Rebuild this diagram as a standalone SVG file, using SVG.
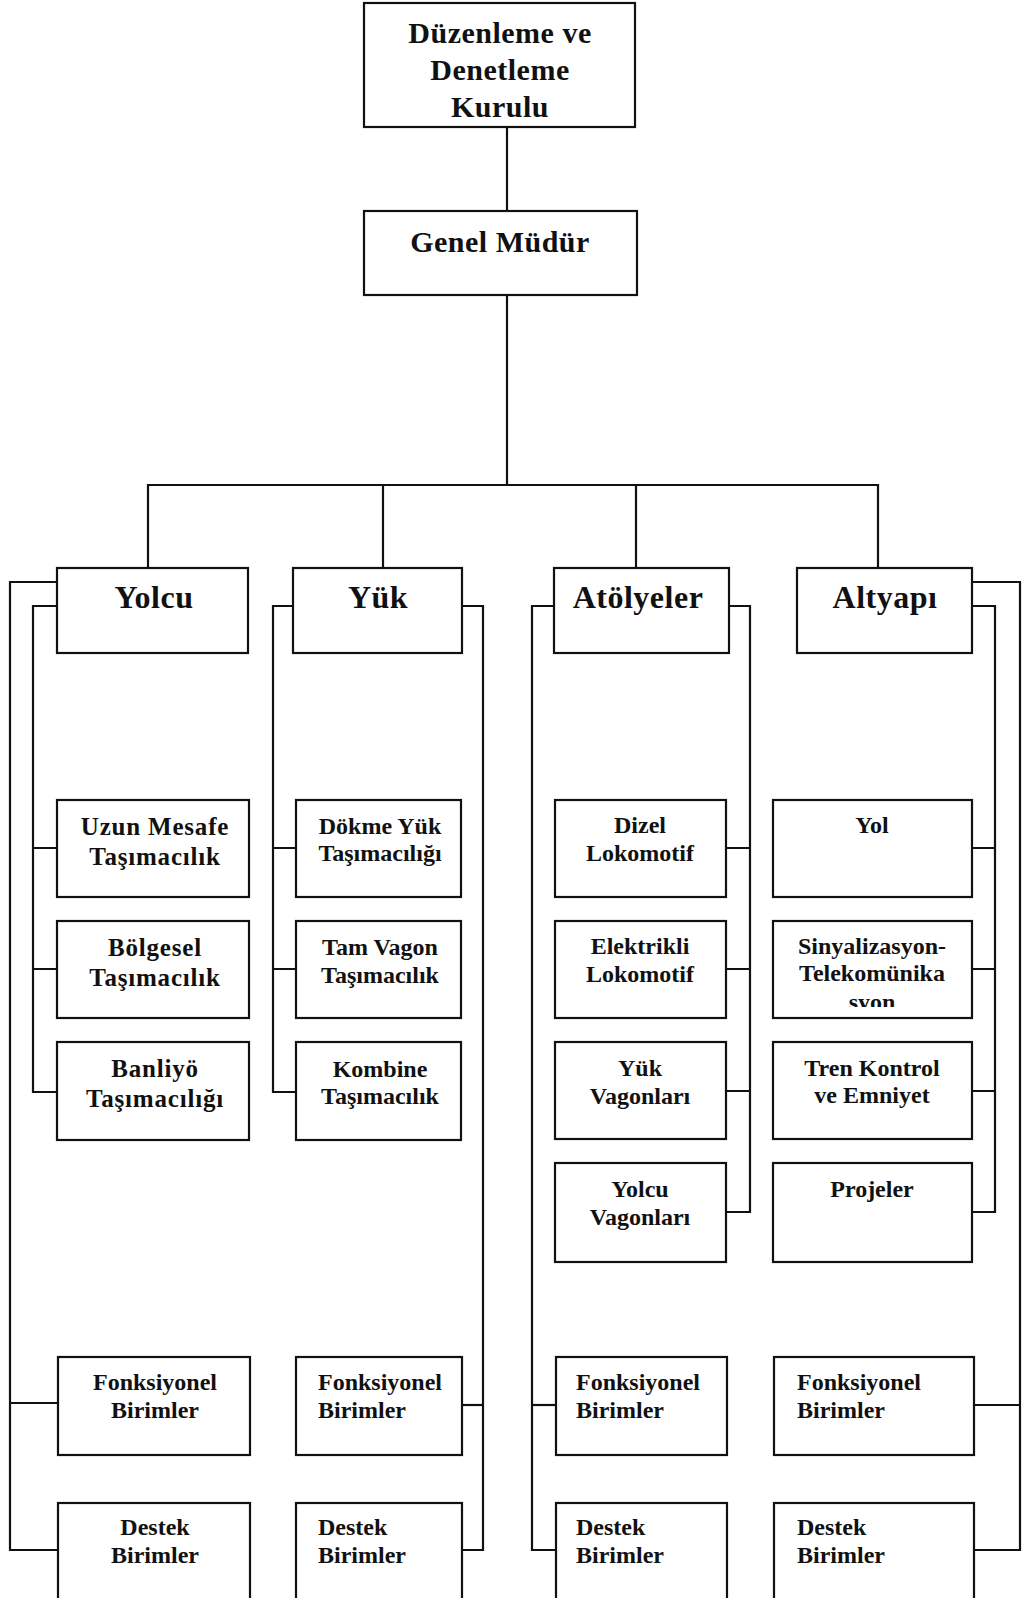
<svg xmlns="http://www.w3.org/2000/svg" width="1028" height="1598" viewBox="0 0 1028 1598">
  <style>
    .box { fill: #fff; stroke: #111; stroke-width: 2.2; }
    .wire { fill: none; stroke: #111; stroke-width: 2.2; }
    text { font-family: "Liberation Serif", "Times New Roman", serif; font-weight: bold; fill: #111; }
    .t1 { font-size: 30px; letter-spacing: 0.5px; text-anchor: middle; }
    .t2 { font-size: 32px; letter-spacing: 0.5px; text-anchor: middle; }
    .t3 { font-size: 25px; letter-spacing: 0.8px; text-anchor: middle; }
    .t4 { font-size: 24px; text-anchor: middle; }
    .t5 { font-size: 24px; text-anchor: start; }
  </style>
  <defs>
    <clipPath id="clipSyon">
      <rect x="773" y="985" width="199" height="22"/>
    </clipPath>
  </defs>
  <rect width="1028" height="1598" fill="#fff"/>

  <!-- connectors -->
  <g id="connectors">
    <path class="wire" d="M507,127 V211"/>
    <path class="wire" d="M507,295 V485"/>
    <path class="wire" d="M148,568 V485 H878 V568"/>
    <path class="wire" d="M383,485 V568"/>
    <path class="wire" d="M636,485 V568"/>
    <!-- Yolcu -->
    <path class="wire" d="M57,582 H10 V1550 H58"/>
    <path class="wire" d="M10,1403 H58"/>
    <path class="wire" d="M57,606 H33 V1092 H57"/>
    <path class="wire" d="M33,848 H57 M33,969 H57"/>
    <!-- Yük -->
    <path class="wire" d="M293,606 H273 V1092 H296"/>
    <path class="wire" d="M273,848 H296 M273,969 H296"/>
    <path class="wire" d="M462,606 H483 V1550 H462"/>
    <path class="wire" d="M462,1405 H483"/>
    <!-- Atölyeler -->
    <path class="wire" d="M554,606 H532 V1550 H556"/>
    <path class="wire" d="M532,1405 H556"/>
    <path class="wire" d="M729,606 H750 V1212 H726"/>
    <path class="wire" d="M726,848 H750 M726,969 H750 M726,1091 H750"/>
    <!-- Altyapı -->
    <path class="wire" d="M972,606 H995 V1212 H972"/>
    <path class="wire" d="M972,848 H995 M972,969 H995 M972,1091 H995"/>
    <path class="wire" d="M972,582 H1020 V1550 H974"/>
    <path class="wire" d="M974,1405 H1020"/>
  </g>

  <!-- top levels -->
  <g id="kurul">
    <rect class="box" x="364" y="3" width="271" height="124"/>
    <text class="t1" x="500" y="43">Düzenleme ve</text>
    <text class="t1" x="500" y="80">Denetleme</text>
    <text class="t1" x="500" y="117">Kurulu</text>
  </g>
  <g id="genel-mudur">
    <rect class="box" x="364" y="211" width="273" height="84"/>
    <text class="t1" x="500" y="252">Genel Müdür</text>
  </g>

  <!-- departments -->
  <g id="yolcu">
    <rect class="box" x="57" y="568" width="191" height="85"/>
    <text class="t2" x="154" y="608">Yolcu</text>
  </g>
  <g id="yuk">
    <rect class="box" x="293" y="568" width="169" height="85"/>
    <text class="t2" x="378" y="608">Yük</text>
  </g>
  <g id="atolyeler">
    <rect class="box" x="554" y="568" width="175" height="85"/>
    <text class="t2" x="638" y="608">Atölyeler</text>
  </g>
  <g id="altyapi">
    <rect class="box" x="797" y="568" width="175" height="85"/>
    <text class="t2" x="885" y="608">Altyapı</text>
  </g>

  <!-- Yolcu units -->
  <g id="uzun-mesafe">
    <rect class="box" x="57" y="800" width="192" height="97"/>
    <text class="t3" x="155" y="835">Uzun Mesafe</text>
    <text class="t3" x="155" y="865">Taşımacılık</text>
  </g>
  <g id="bolgesel">
    <rect class="box" x="57" y="921" width="192" height="97"/>
    <text class="t3" x="155" y="956">Bölgesel</text>
    <text class="t3" x="155" y="986">Taşımacılık</text>
  </g>
  <g id="banliyo">
    <rect class="box" x="57" y="1042" width="192" height="98"/>
    <text class="t3" x="155" y="1077">Banliyö</text>
    <text class="t3" x="155" y="1107">Taşımacılığı</text>
  </g>

  <!-- Yük units -->
  <g id="dokme-yuk">
    <rect class="box" x="296" y="800" width="165" height="97"/>
    <text class="t4" x="380" y="834">Dökme Yük</text>
    <text class="t4" x="380" y="861">Taşımacılığı</text>
  </g>
  <g id="tam-vagon">
    <rect class="box" x="296" y="921" width="165" height="97"/>
    <text class="t4" x="380" y="955">Tam Vagon</text>
    <text class="t4" x="380" y="983">Taşımacılık</text>
  </g>
  <g id="kombine">
    <rect class="box" x="296" y="1042" width="165" height="98"/>
    <text class="t4" x="380" y="1077">Kombine</text>
    <text class="t4" x="380" y="1104">Taşımacılık</text>
  </g>

  <!-- Atölyeler units -->
  <g id="dizel">
    <rect class="box" x="555" y="800" width="171" height="97"/>
    <text class="t4" x="640" y="833">Dizel</text>
    <text class="t4" x="640" y="861">Lokomotif</text>
  </g>
  <g id="elektrikli">
    <rect class="box" x="555" y="921" width="171" height="97"/>
    <text class="t4" x="640" y="954">Elektrikli</text>
    <text class="t4" x="640" y="982">Lokomotif</text>
  </g>
  <g id="yuk-vagon">
    <rect class="box" x="555" y="1042" width="171" height="97"/>
    <text class="t4" x="640" y="1076">Yük</text>
    <text class="t4" x="640" y="1104">Vagonları</text>
  </g>
  <g id="yolcu-vagon">
    <rect class="box" x="555" y="1163" width="171" height="99"/>
    <text class="t4" x="640" y="1197">Yolcu</text>
    <text class="t4" x="640" y="1225">Vagonları</text>
  </g>

  <!-- Altyapı units -->
  <g id="yol">
    <rect class="box" x="773" y="800" width="199" height="97"/>
    <text class="t4" x="872" y="833">Yol</text>
  </g>
  <g id="sinyalizasyon">
    <rect class="box" x="773" y="921" width="199" height="97"/>
    <text class="t4" x="872" y="954">Sinyalizasyon-</text>
    <text class="t4" x="872" y="981">Telekomünika</text>
    <text class="t4" x="872" y="1010" clip-path="url(#clipSyon)">syon</text>
  </g>
  <g id="tren-kontrol">
    <rect class="box" x="773" y="1042" width="199" height="97"/>
    <text class="t4" x="872" y="1076">Tren Kontrol</text>
    <text class="t4" x="872" y="1103">ve Emniyet</text>
  </g>
  <g id="projeler">
    <rect class="box" x="773" y="1163" width="199" height="99"/>
    <text class="t4" x="872" y="1197">Projeler</text>
  </g>

  <!-- functional / support units -->
  <g id="yolcu-fonksiyonel">
    <rect class="box" x="58" y="1357" width="192" height="98"/>
    <text class="t4" x="155" y="1390">Fonksiyonel</text>
    <text class="t4" x="155" y="1418">Birimler</text>
  </g>
  <g id="yolcu-destek">
    <rect class="box" x="58" y="1503" width="192" height="110"/>
    <text class="t4" x="155" y="1535">Destek</text>
    <text class="t4" x="155" y="1563">Birimler</text>
  </g>
  <g id="yuk-fonksiyonel">
    <rect class="box" x="296" y="1357" width="166" height="98"/>
    <text class="t5" x="318" y="1390">Fonksiyonel</text>
    <text class="t5" x="318" y="1418">Birimler</text>
  </g>
  <g id="yuk-destek">
    <rect class="box" x="296" y="1503" width="166" height="110"/>
    <text class="t5" x="318" y="1535">Destek</text>
    <text class="t5" x="318" y="1563">Birimler</text>
  </g>
  <g id="atolyeler-fonksiyonel">
    <rect class="box" x="556" y="1357" width="171" height="98"/>
    <text class="t5" x="576" y="1390">Fonksiyonel</text>
    <text class="t5" x="576" y="1418">Birimler</text>
  </g>
  <g id="atolyeler-destek">
    <rect class="box" x="556" y="1503" width="171" height="110"/>
    <text class="t5" x="576" y="1535">Destek</text>
    <text class="t5" x="576" y="1563">Birimler</text>
  </g>
  <g id="altyapi-fonksiyonel">
    <rect class="box" x="774" y="1357" width="200" height="98"/>
    <text class="t5" x="797" y="1390">Fonksiyonel</text>
    <text class="t5" x="797" y="1418">Birimler</text>
  </g>
  <g id="altyapi-destek">
    <rect class="box" x="774" y="1503" width="200" height="110"/>
    <text class="t5" x="797" y="1535">Destek</text>
    <text class="t5" x="797" y="1563">Birimler</text>
  </g>
</svg>
